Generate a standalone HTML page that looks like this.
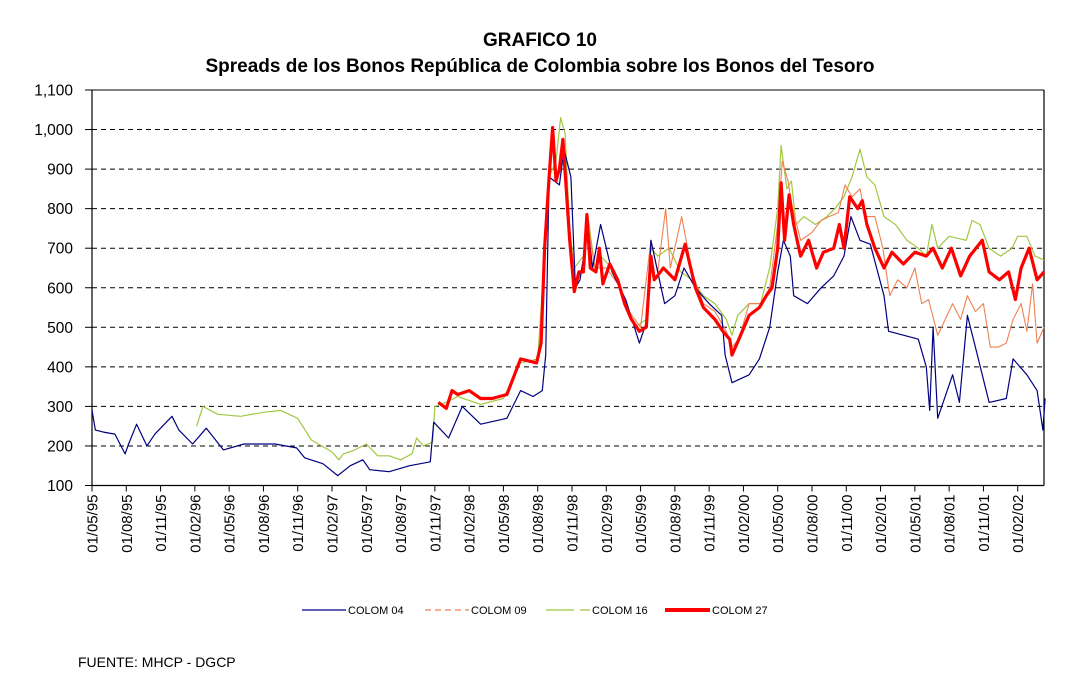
<!DOCTYPE html>
<html><head><meta charset="utf-8"><style>
body{margin:0;background:#fff;width:1074px;height:685px;overflow:hidden;font-family:"Liberation Sans",Arial,sans-serif}
svg text{font-family:"Liberation Sans",Arial,sans-serif}
</style></head><body>
<svg id="chart" width="1074" height="685" xmlns="http://www.w3.org/2000/svg">
<text x="540" y="46" text-anchor="middle" font-size="19" font-weight="bold">GRAFICO 10</text>
<text x="540" y="72" text-anchor="middle" font-size="19" font-weight="bold">Spreads de los Bonos República de Colombia sobre los Bonos del Tesoro</text>
<g id="grid"></g>
<g id="yaxis"></g>
<g id="xaxis"></g>
<g id="series"></g>
<g font-size="11">
 <g><line x1="302" y1="610" x2="346" y2="610" stroke="#000080" stroke-width="1.2"/><text x="348" y="614">COLOM  04</text></g>
 <g><line x1="425" y1="610" x2="469" y2="610" stroke="#f08050" stroke-width="1.2" stroke-dasharray="6,4"/><text x="471" y="614">COLOM 09</text></g>
 <g><line x1="546" y1="610" x2="590" y2="610" stroke="#a0c840" stroke-width="1.2" stroke-dasharray="28,6"/><text x="592" y="614">COLOM 16</text></g>
 <g><line x1="665" y1="610" x2="710" y2="610" stroke="#ff0000" stroke-width="4"/><text x="712" y="614">COLOM 27</text></g>
</g>
<text x="78" y="667" font-size="14">FUENTE: MHCP - DGCP</text>
</svg>
<script>
const yTicks=[100,200,300,400,500,600,700,800,900,1000,1100];
const yTickLabels=["100","200","300","400","500","600","700","800","900","1,000","1,100"];
const xTickLabels=["01/05/95","01/08/95","01/11/95","01/02/96","01/05/96","01/08/96","01/11/96","01/02/97","01/05/97","01/08/97","01/11/97","01/02/98","01/05/98","01/08/98","01/11/98","01/02/99","01/05/99","01/08/99","01/11/99","01/02/00","01/05/00","01/08/00","01/11/00","01/02/01","01/05/01","01/08/01","01/11/01","01/02/02"];
// time in months since 01/05/95
const t04=[0,0.3,1,2,2.9,3.2,3.9,4.8,5.5,7,7.6,8.8,10,11.5,13.3,16,17.9,18.6,20.2,21.5,22.6,23.7,24.3,26,27.8,29.6,29.9,31.2,32.4,34,36.3,37.5,38.6,39.4,39.7,40,40.9,41.3,41.9,42.3,42.7,43.4,43.8,44.5,45.5,46.7,47.9,48.6,48.9,50.1,51,51.8,52.8,54,55.1,55.4,56,57.5,58.4,59.3,60,60.5,61.1,61.4,62.6,63.8,64.9,65.8,66.4,67.2,68.1,69.3,69.7,71,72.3,73,73.3,73.6,74,75.3,75.9,76.6,77.3,78.5,80,80.6,81.8,82.7,83.2,83.4];
const v04=[290,240,235,230,180,205,255,200,230,275,240,205,245,190,205,205,195,170,155,125,150,165,140,135,150,160,260,220,300,255,270,340,325,340,430,880,860,950,880,600,620,750,650,760,640,570,460,520,720,560,580,650,600,560,530,430,360,380,420,500,640,720,680,580,560,600,630,680,780,720,710,580,490,480,470,400,290,500,270,380,310,530,450,310,320,420,380,340,240,320];
const t09=[41.5,42.2,43,43.4,44,45,46,47,48,48.9,49.5,50.2,50.6,51.6,52.5,53.5,54.5,55.5,56,56.6,57.5,58.5,59.3,60,60.4,60.9,61.3,62,63,63.8,64.5,65.3,65.9,66.5,67.2,67.7,68.5,69.2,69.8,70.5,71.3,72,72.6,73.2,74,74.5,75.3,76,76.6,77.3,78,78.6,79.3,80,80.6,81.3,81.8,82.3,82.7,83.3];
const v09=[850,600,650,760,650,650,610,540,500,720,640,800,650,780,640,560,540,490,450,470,560,560,600,760,920,870,800,720,740,770,780,790,860,830,850,780,780,700,580,620,600,650,560,570,480,510,560,520,580,540,560,450,450,460,520,560,490,610,460,500];
const t16=[9.15,9.7,11,13,15,16.5,18,19.2,21,21.6,22,23,24,25,26,27,28,28.4,29,29.8,30,31,32,34,36,37.5,39,39.6,40,40.6,41,41.4,41.8,42.2,43,43.4,44,44.5,45.5,46.5,47.5,48.5,48.9,49.5,50.5,51.5,52.5,53.5,54.5,55.5,56,56.5,57.5,58.5,59.3,60,60.3,60.8,61.2,61.6,62.3,63.3,64.3,65,65.8,66.5,67.2,67.8,68.5,69.3,70.3,71.3,72.3,73,73.5,74,75,76.5,77,77.7,78.5,79.5,80.5,81,81.8,82.5,83.3];
const v16=[250,300,280,275,285,290,270,215,185,165,180,190,205,175,175,165,180,220,200,210,300,310,325,305,320,410,420,680,880,920,1030,990,750,650,680,780,650,680,650,580,500,520,700,680,700,640,620,580,560,520,480,530,560,560,650,800,960,850,870,760,780,760,780,800,830,880,950,880,860,780,760,720,700,680,760,700,730,720,770,760,700,680,700,730,730,680,670];
const t27=[30.3,31,31.5,32,33,34,35,36.3,37.5,38.9,39.3,39.6,40,40.3,40.6,40.9,41.2,41.8,42.2,42.6,43,43.3,43.6,44.1,44.4,44.7,45.3,46,46.6,47.2,47.9,48.5,48.9,49.2,50,51,51.9,52.8,53.5,54.5,55.2,55.8,56,56.6,57.5,58.4,59,59.5,60,60.3,60.6,61,61.4,62,62.7,63.4,64,64.9,65.4,65.8,66.3,67,67.4,67.8,68.5,69.3,70,71,72,73,73.6,74.4,75.2,76,76.8,77.9,78.5,79.4,80.2,80.8,81.3,82,82.7,83.3];
const v27=[310,295,340,330,340,320,320,330,420,410,460,700,880,1005,870,900,975,720,590,640,640,785,650,640,700,610,660,620,560,520,490,500,680,620,650,620,710,600,550,520,490,470,430,470,530,550,580,600,700,865,720,835,760,680,720,650,690,700,760,700,830,800,820,760,700,650,690,660,690,680,700,650,700,630,680,720,640,620,640,570,650,700,620,640];

const X0=92,X1=1044,Y0=485.5,Y1=90;
const xs=t=>X0+t*(X1-X0)/83.3;
const ys=v=>Y0-(v-100)*(Y0-Y1)/1000;
const NS="http://www.w3.org/2000/svg";
function mk(tag,parent,attrs){const e=document.createElementNS(NS,tag);for(const k in attrs)e.setAttribute(k,attrs[k]);parent.appendChild(e);return e;}
const grid=document.getElementById('grid'),ya=document.getElementById('yaxis'),xa=document.getElementById('xaxis'),sg=document.getElementById('series');
yTicks.forEach((v,i)=>{
  if(v>100&&v<1100){const g=mk('line',grid,{x1:X0,x2:X1,y1:ys(v),y2:ys(v),stroke:'#000','stroke-width':1,'stroke-dasharray':'5,4'});
  
  }
  mk('line',ya,{x1:X0-7,x2:X0,y1:ys(v),y2:ys(v),stroke:'#000'});
  const t=mk('text',ya,{x:73,y:ys(v)+5.5,'text-anchor':'end','font-size':15.5});
  t.textContent=yTickLabels[i];
  
  
});
mk('line',ya,{x1:X0,x2:X0,y1:Y1,y2:Y0,stroke:'#000','stroke-width':1.2});
mk('line',ya,{x1:X1,x2:X1,y1:Y1,y2:Y0,stroke:'#000','stroke-width':1.2});
mk('line',ya,{x1:X0,x2:X1,y1:Y1,y2:Y1,stroke:'#000','stroke-width':1});
mk('line',xa,{x1:X0,x2:X1,y1:Y0,y2:Y0,stroke:'#000','stroke-width':1.2});
xTickLabels.forEach((l,i)=>{
  const x=xs(i*3);
  mk('line',xa,{x1:x,x2:x,y1:Y0,y2:Y0+6,stroke:'#000'});
  const t=mk('text',xa,{x:0,y:0,'text-anchor':'end','font-size':15,transform:`translate(${x+5.5},${Y0+9}) rotate(-90)`});
  t.textContent=l;
  
  
});
function line(ts,vs,color,w,name){
  const d=ts.map((t,i)=>(i?'L':'M')+xs(t).toFixed(1)+','+ys(vs[i]).toFixed(1)).join('');
  const p=mk('path',sg,{d:d,fill:'none',stroke:color,'stroke-width':w,'stroke-linejoin':'round'});
  
  
}
line(t16,v16,'#a0c840',1.2,'series-colom16');
line(t09,v09,'#f08050',1.1,'series-colom09');
line(t04,v04,'#000080',1.2,'series-colom04');
line(t27,v27,'#ff0000',3.2,'series-colom27');
</script>
</body></html>
